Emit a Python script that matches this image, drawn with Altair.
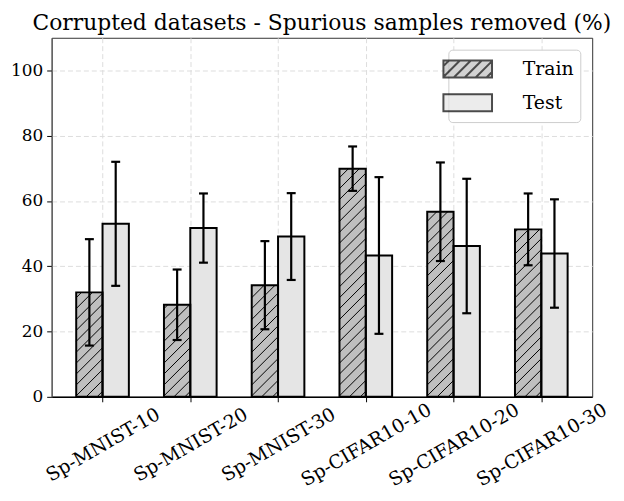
import altair as alt
import pandas as pd
import numpy as np

categories = ["Sp-MNIST-10", "Sp-MNIST-20", "Sp-MNIST-30",
              "Sp-CIFAR10-10", "Sp-CIFAR10-20", "Sp-CIFAR10-30"]
train_mean = [32.0, 28.2, 34.2, 69.9, 56.7, 51.3]
train_err = [16.3, 10.8, 13.5, 6.8, 15.1, 11.0]
test_mean = [53.0, 51.7, 49.1, 43.3, 46.2, 43.9]
test_err = [19.0, 10.6, 13.3, 24.0, 20.6, 16.6]
series = ["Train", "Test"]
colors = ["#bfbfbf", "#e5e5e5"]

FONT = "DejaVu Serif"
W, H = 545, 362
XMIN, XMAX = -0.58, 5.58
YMAX = 110
BW = 0.3
sx = W / (XMAX - XMIN)
sy = H / YMAX
HATCH = 11.0  # px spacing

rows = []
for i, c in enumerate(categories):
    rows.append(dict(cat=c, pos=i, s="Train", col=colors[0], x0=i - BW, x1=i, xc=i - BW / 2,
                     v=train_mean[i], lo=train_mean[i] - train_err[i], hi=train_mean[i] + train_err[i]))
    rows.append(dict(cat=c, pos=i, s="Test", col=colors[1], x0=i, x1=i + BW, xc=i + BW / 2,
                     v=test_mean[i], lo=test_mean[i] - test_err[i], hi=test_mean[i] + test_err[i]))
df = pd.DataFrame(rows)
capw = 4.5 / sx
df["c0"] = df["xc"] - capw
df["c1"] = df["xc"] + capw
df["off"] = -50.0

# hatch segments for Train bars (45 degree in pixel space)
hrows = []
for r in rows:
    if r["s"] != "Train":
        continue
    Wp = (r["x1"] - r["x0"]) * sx
    Hp = r["v"] * sy
    k = -Wp + HATCH / 2
    while k < Hp:
        u0 = max(0.0, -k)
        u1 = min(Wp, Hp - k)
        if u1 > u0:
            hrows.append(dict(hx0=r["x0"] + u0 / sx, hy0=(u0 + k) / sy,
                              hx1=r["x0"] + u1 / sx, hy1=(u1 + k) / sy))
        k += HATCH
hdf = pd.DataFrame(hrows)

# legend symbol paths (unit = 12.25 px; box 49 x 17 px)
UNIT = 12.25
def rect_path(hatch):
    hw = 2.0
    hh = 0.7
    p = f"M-{hw},-{hh}H{hw}V{hh}H-{hw}Z"
    if hatch:
        sp = HATCH / UNIT
        k = -2 * hw + sp / 2
        while k < 2 * hh:
            u0 = max(0.0, -k)
            u1 = min(2 * hw, 2 * hh - k)
            if u1 > u0:
                xa, ya = -hw + u0, hh - (u0 + k)
                xb, yb = -hw + u1, hh - (u1 + k)
                p += f"M{xa:.3f},{ya:.3f}L{xb:.3f},{yb:.3f}"
            k += sp
    return p

shapes = [rect_path(True), rect_path(False)]

xscale = alt.Scale(domain=[XMIN, XMAX], nice=False, zero=False)
yscale = alt.Scale(domain=[0, YMAX], nice=False)
labels_js = "[" + ",".join(f"'{c}'" for c in categories) + "]"

base = alt.Chart(df)

xaxis = alt.Axis(values=list(range(len(categories))), labelExpr=f"{labels_js}[datum.value]",
                 title=None, labelAngle=-30, labelAlign="center", labelBaseline="middle",
                 labelOverlap=False, grid=True, gridDash=[5, 3], gridColor="#dddddd",
                 domainColor="black", domainWidth=1.6, tickColor="black", tickSize=5,
                 labelFontSize=19, labelFont=FONT, labelColor="black", labelPadding=43,
                 labelFlush=False, labelBound=False)
yaxis = alt.Axis(values=[0, 20, 40, 60, 80, 100], title=None, grid=True, gridDash=[5, 3],
                 gridColor="#dddddd", domainColor="#555555", tickColor="black", tickSize=5,
                 labelFontSize=17, labelFont=FONT, labelColor="black", labelPadding=4)

fills = base.mark_rect(strokeWidth=0).encode(
    x=alt.X("x0:Q", scale=xscale, axis=xaxis),
    x2="x1:Q",
    y=alt.Y("v:Q", scale=yscale, axis=yaxis),
    y2=alt.datum(0),
    fill=alt.Fill("col:N", scale=None),
)

hatch = alt.Chart(hdf).mark_rule(color="black", strokeWidth=1).encode(
    x="hx0:Q", x2="hx1:Q", y="hy0:Q", y2="hy1:Q")

outline = base.mark_rect(fillOpacity=0, stroke="black", strokeWidth=2).encode(
    x="x0:Q", x2="x1:Q", y="v:Q", y2=alt.datum(0))

err = base.mark_rule(color="black", strokeWidth=2.2).encode(
    x="xc:Q", y="lo:Q", y2="hi:Q")
caps_lo = base.mark_rule(color="black", strokeWidth=2.2).encode(
    x="c0:Q", x2="c1:Q", y="lo:Q")
caps_hi = base.mark_rule(color="black", strokeWidth=2.2).encode(
    x="c0:Q", x2="c1:Q", y="hi:Q")

leg = base.mark_point(filled=True, clip=True, stroke="black", strokeWidth=2).encode(
    x="xc:Q", y="off:Q",
    fill=alt.Fill("s:N", scale=alt.Scale(domain=series, range=colors), title=None,
                  legend=alt.Legend(orient="top-right", offset=12, title=None,
                                    symbolStrokeColor="black", symbolStrokeWidth=2,
                                    symbolSize=UNIT * UNIT * 4,
                                    labelFontSize=19, labelFont=FONT,
                                    labelColor="black", labelOffset=42, rowPadding=7,
                                    padding=6, fillColor="white", strokeColor="#cccccc",
                                    cornerRadius=4)),
    shape=alt.Shape("s:N", scale=alt.Scale(domain=series, range=shapes), title=None),
)

chart = alt.layer(fills, hatch, outline, err, caps_lo, caps_hi, leg).properties(
    width=W, height=H,
    autosize=alt.AutoSizeParams(type="none"),
    padding={"left": 44, "top": 28, "right": 24, "bottom": 100},
    title=alt.TitleParams("Corrupted datasets - Spurious samples removed (%)",
                          font=FONT, fontSize=22, fontWeight="normal",
                          color="black", offset=3),
).configure_view(stroke="#333333", strokeWidth=1).configure_title(font=FONT)

chart.save("out.html", embed_options={"renderer": "svg", "actions": False})
